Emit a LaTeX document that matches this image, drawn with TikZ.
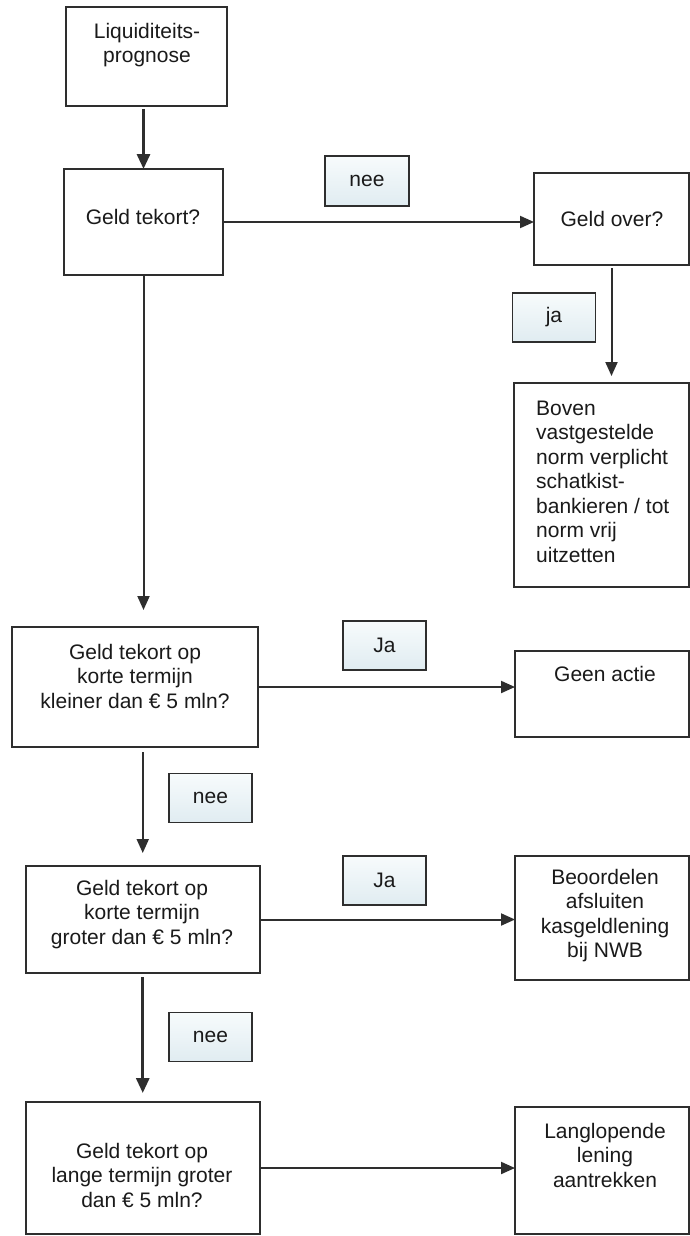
\documentclass[tikz,border=0pt]{standalone}
\usepackage{fontspec}
\setmainfont{Liberation Sans}
\usetikzlibrary{arrows.meta}
\definecolor{ink}{HTML}{1A1A1A}
\definecolor{edge}{HTML}{2E2E2E}
\definecolor{tagtop}{HTML}{F7FBFC}
\definecolor{tagbot}{HTML}{E0ECF1}
\tikzset{
  every node/.style={text=ink, font=\fontsize{21}{24.5}\selectfont},
  % empty frame, size given per node; the text sits in its own node
  box/.style={draw=edge, line width=2pt, inner sep=0pt, outer sep=0pt},
  txt/.style={inner sep=0pt, align=center},
  tag/.style={draw=edge, line width=1.6pt, top color=tagtop, bottom color=tagbot,
              minimum width=83, minimum height=49, inner sep=0pt},
  arr/.style={-{Triangle[length=14pt,width=12pt]}, line width=2pt, draw=edge},
  arrbold/.style={arr, line width=3pt, -{Triangle[length=15pt,width=13pt]}},
}

\begin{document}
\begin{tikzpicture}[x=1pt,y=-1pt]
  \useasboundingbox[fill=white] (0,0) rectangle (690,1236);

  % ---- top: forecast and first question ----
  \node[box, minimum width=161, minimum height=99]  (prog)   at (146.5,56.5) {};
  \node[txt] (prog-t) at (147,45) {Liquiditeits-\\prognose};
  \node[box, minimum width=159, minimum height=106] (tekort) at (143.5,222) {};
  \node[txt] (tekort-t) at (143,217) {Geld tekort?};
  \node[box, minimum width=155, minimum height=92]  (over)   at (611.5,219) {};
  \node[txt] (over-t) at (612,219) {Geld over?};
  \node[box, minimum width=175, minimum height=204] (boven)  at (601.5,485) {};
  \node[txt, align=left, anchor=west] (boven-t) at (536,481.5)
        {Boven\\vastgestelde\\norm verplicht\\schatkist-\\bankieren / tot\\norm vrij\\uitzetten};

  \draw[arrbold, shorten <=3pt] (prog.south -| tekort.north) -- (tekort.north);
  \draw[arr] (tekort.east) -- (tekort.east -| over.west);
  \draw[arr, shorten <=3pt, shorten >=7pt] (over.south) -- (over.south |- boven.north);
  \node[tag, minimum width=84, minimum height=50] (nee1) at (367,181) {nee};
  \node[tag] (ja1) at (554,317.5) {ja};

  % ---- short term, below 5 mln ----
  \node[box, minimum width=246, minimum height=120] (kort1) at (135,687) {};
  \node[txt] (kort1-t) at (135,676) {Geld tekort op\\korte termijn\\kleiner dan € 5 mln?};
  \node[box, minimum width=174, minimum height=86]  (geen)  at (602,694) {};
  \node[txt] (geen-t) at (605,674) {Geen actie};

  \draw[arr, shorten >=17pt] (tekort.south) -- (tekort.south |- kort1.north);
  \draw[arr] (kort1.east) -- (kort1.east -| geen.west);
  \node[tag] (ja2) at (384.5,645.5) {Ja};

  % ---- short term, above 5 mln ----
  \node[box, minimum width=234.5, minimum height=107] (kort2)   at (142.75,919.5) {};
  \node[txt] (kort2-t) at (142,914.5) {Geld tekort op\\korte termijn\\groter dan € 5 mln?};
  \node[box, minimum width=174, minimum height=124]   (kasgeld) at (602,918) {};
  \node[txt] (kasgeld-t) at (605,915.5) {Beoordelen\\afsluiten\\kasgeldlening\\bij NWB};

  \draw[arr, shorten <=5pt, shorten >=13pt] (kort2.north |- kort1.south) -- (kort2.north);
  \draw[arr] (kort2.east) -- (kort2.east -| kasgeld.west);
  \node[tag] (nee2) at (210.5,798) {nee};
  \node[tag] (ja3)  at (384.5,880.5) {Ja};

  % ---- long term ----
  \node[box, minimum width=234.5, minimum height=132] (lang)   at (142.75,1168) {};
  \node[txt] (lang-t) at (142,1175) {Geld tekort op\\lange termijn groter\\dan € 5 mln?};
  \node[box, minimum width=174, minimum height=127]   (lening) at (602,1170.5) {};
  \node[txt] (lening-t) at (605,1155) {Langlopende\\lening\\aantrekken};

  \draw[arrbold, shorten <=4pt, shorten >=9pt] (kort2.south) -- (lang.north);
  \draw[arr] (lang.east) -- (lang.east -| lening.west);
  \node[tag] (nee3) at (210.5,1037) {nee};
\end{tikzpicture}
\end{document}
